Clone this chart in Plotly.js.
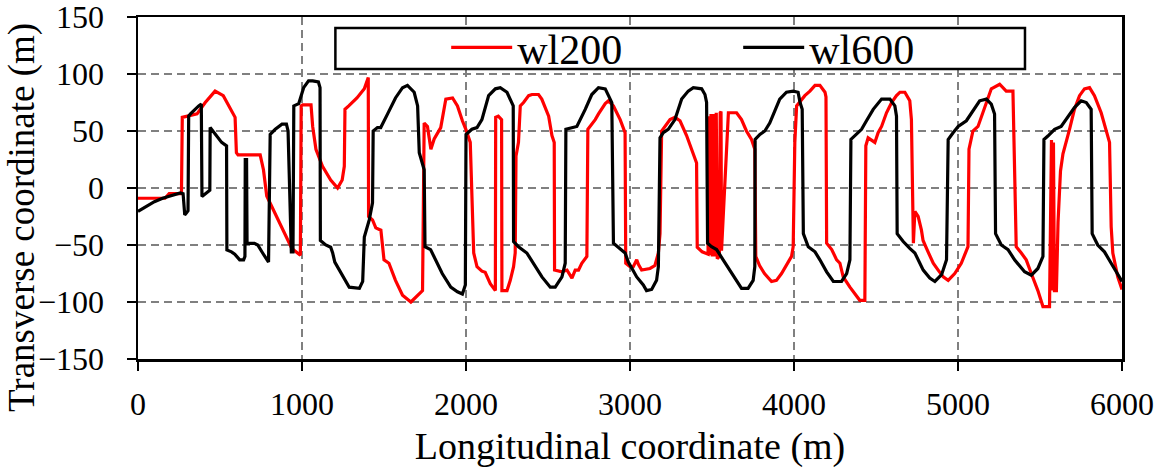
<!DOCTYPE html>
<html>
<head>
<meta charset="utf-8">
<script src="https://cdn.plot.ly/plotly-3.0.1.min.js"></script>
<style>html,body{margin:0;padding:0;background:#fff;}#chart{width:1160px;height:473px;}</style>
</head>
<body>
<div id="chart"></div>
<script>
// wl200 (red) longitudinal / transverse coordinates (m)
var wl200X = [0,165,190,265,270,300,360,410,470,520,592,600,610,745,765,785,938,990,
  995,1005,1055,1065,1085,1125,1175,1217,1245,1258,1262,1285,1335,1380,1404,1406,1430,1450,1481,1500,1530,1570,1613,1664,1705,1735,
  1745,1765,1786,1806,1846,1857,1877,1918,1948,1978,1999,2026,2047,2067,2097,2117,2148,2179,2181,2197,2217,2219,2250,2270,2290,2300,
  2305,2320,2331,2351,2382,2402,2442,2462,2504,2524,2538,2540,2565,2585,2616,2646,2666,2686,2706,2737,2743,2767,2788,2808,2849,2869,
  2899,2940,2970,2974,3000,3020,3041,3051,3071,3122,3152,3173,3183,3193,3213,3244,3274,3305,3345,3386,3406,3410,3440,3476,3478,3486,
  3494,3502,3510,3518,3526,3532,3545,3550,3555,3558,3600,3650,3680,3710,3741,3761,3767,3790,3820,3863,3893,3924,3954,3985,3995,4005,
  4016,4066,4097,4128,4158,4189,4195,4199,4230,4260,4280,4300,4341,4371,4401,4432,4438,4452,4472,4493,4513,4534,4564,4595,4625,4646,
  4676,4706,4716,4728,4737,4757,4777,4787,4808,4828,4849,4879,4910,4940,4980,5020,5061,5067,5091,5122,5152,5203,5254,5294,5335,5345,
  5355,5386,5416,5447,5487,5518,5558,5570,5576,5582,5588,5600,5610,5625,5640,5680,5710,5741,5771,5802,5832,5873,5924,5934,5944,5974,6000];
var wl200Y = [-9,-9,-5,-5,62,63,65,75,85,81,62,31,29,29,16,-7,-53,-59,
  72,73,73,54,34,19,7,0,7,19,69,72,79,87,97,-25,-28,-35,-37,-63,-66,-81,-94,-100,-94,-90,
  57,54,34,43,53,63,78,79,72,59,51.5,40,-57,-69,-73,-74,-84,-90,62,63,60,-90,-90,-81,-69,-57,
  28,40,72,75,81,82,82,78,63,46,40,-72,-73,-73.5,-72,-79,-72,-72,-66,-60,51.5,56,60,65,74,76.5,
  72,60,48.5,-66,-69,-69,-63,-67,-72,-70.6,-68,-57,-40,50,54,60,62,59,46,31,22,-52,-56,-58,63,-59,
  65,-60,65,-60,66,-62,-60,66,67,-55,66,66,60,50,42.6,34,-60,-68,-75,-82,-81,-75,-68,-60,-51.5,40,
  72,81,85,90,90,84,80,-48.5,-54,-63,-66,-78,-87,-93,-98.5,-98.5,37,44,42,40,48.5,54,66,75,81,84,
  84,76.5,60,-48.5,-20.6,-25,-37,-46,-53,-60,-66,-72,-78,-81,-75,-66,-51.5,34,50,54,66,87,91,85,85,28,
  -51.5,-57,-63,-75,-90,-104,-104,42,-90,40,-90,-90,-30,15,30,51.5,69,81,87,88,81,66,40,-34,-57,-78,-89];

// wl600 (black)
var wl600X = [0,30,60,100,150,200,258,275,285,295,305,309,320,370,386,390,420,438,440,470,510,540,542,570,590,620,644,652,654,662,665,
  710,730,760,796,806,837,878,905,915,917,935,945,950,980,1010,1040,1065,1100,1110,1112,1145,1175,1187,1200,1250,1288,1350,1370,1380,
  1410,1430,1434,1460,1480,1522,1570,1613,1643,1684,1705,1715,1745,1750,1784,1855,1907,1948,1978,1996,2000,2036,2067,2097,2138,2179,
  2209,2250,2280,2288,2290,2320,2371,2412,2463,2514,2544,2585,2605,2609,2645,2676,2727,2767,2808,2849,2869,2889,2899,2940,2970,2990,
  3041,3081,3101,3132,3162,3173,3183,3203,3233,3274,3315,3355,3386,3437,3457,3467,3473,3497,3528,3568,3609,3650,3680,3720,3751,3761,
  3763,3792,3822,3852,3883,3913,3954,3995,4025,4037,4050,4057,4087,4128,4158,4199,4240,4290,4321,4341,4347,4371,4412,4442,4483,4534,
  4585,4615,4625,4629,4666,4706,4737,4788,4828,4859,4900,4930,4940,4970,5001,5051,5091,5132,5173,5203,5223,5229,5264,5305,5345,5406,
  5447,5487,5518,5524,5548,5589,5629,5670,5710,5751,5782,5812,5818,5852,5893,5934,5974,6000];
var wl600Y = [-20.6,-18,-15,-12,-9,-7,-4.4,-5,-23.5,-22,-20,63,65,72,73.5,-7.4,-4,-2,53,47,40,37,-54.4,-56,-58,-63,-63,-60,25,25,-48.5,
  -48.5,-50,-57,-65,47,51.5,56,56,50,38,-56,-56,72,74,88,94,94,93,88,-46,-50,-52,-57,-65,-78,-87,-88,-82,-43,
  -28,-13,50,53,53,65,79,88,90,84,72,31,16,-51.5,-54,-75,-87,-91,-93,-85,47,51.5,53,60,81,87,
  88,84,75,72,-47,-51.5,-57,-66,-78,-87,-87,-78,-66,51.5,53,54,69,82,88,87,81,75,-48.5,-53,-57,-65,
  -78,-85,-90,-89,-81,-69,44,48.5,51.5,60,78,85,88,87,82,75,-48.5,-51.5,-54,-63,-72,-82,-88,-88,-81,-69,
  42.6,47,50,57,68,78,84,85,84,75,69,-40,-51.5,-56,-63,-73.5,-82,-82,-75,-63,42.6,45.6,51.5,59,69,78,
  78,72,63,-40,-47,-53,-57,-72,-79,-82,-76,-63,42.6,48.5,54,59,68,76.5,78,73.5,65,-40,-50,-54,-63,-73.5,
  -76.5,-70.6,-60,42.6,45.6,51.5,54,63,70.6,76.5,75,69,-40,-50,-56,-66,-76.5,-82];

var seriesNames = ['wl200', 'wl600'];
var xTitle = 'Longitudinal coordinate (m)';
var yTitle = 'Transverse coordinate (m)';

var FONT = '"Liberation Serif", "Times New Roman", serif';

var traces = [
  {x: wl200X, y: wl200Y, name: seriesNames[0], type: 'scatter', mode: 'lines',
   line: {color: '#ff0000', width: 3.2}},
  {x: wl600X, y: wl600Y, name: seriesNames[1], type: 'scatter', mode: 'lines',
   line: {color: '#000000', width: 3.2}}
];

var gridDash = '8px,5px';
var layout = {
  width: 1160, height: 473,
  margin: {l: 137.5, r: 38, t: 17, b: 114, pad: 0},
  paper_bgcolor: '#ffffff', plot_bgcolor: '#ffffff',
  font: {family: FONT, color: '#000', size: 32},
  showlegend: true,
  legend: {
    orientation: 'h', x: 0.3132, y: 1.01, xanchor: 'left', yanchor: 'top',
    bgcolor: 'rgba(0,0,0,0)', borderwidth: 0,
    font: {family: FONT, size: 42, color: '#000'},
    entrywidth: 216, itemwidth: 61, tracegroupgap: 0
  },
  xaxis: {
    range: [0, 6000], dtick: 1000, tick0: 0,
    showline: true, linecolor: '#000', linewidth: 2.5, mirror: true,
    ticks: 'outside', ticklen: 9, tickwidth: 2, tickcolor: '#000',
    ticklabelstandoff: 6, ticklabeloverflow: 'allow',
    showgrid: true, gridcolor: '#808080', gridwidth: 2, griddash: gridDash,
    zeroline: false,
    tickfont: {family: FONT, size: 32, color: '#000'},
    title: {text: xTitle, font: {family: FONT, size: 38, color: '#000'}, standoff: 12},
    automargin: false
  },
  yaxis: {
    range: [-150, 150], dtick: 50, tick0: 0,
    showline: true, linecolor: '#000', linewidth: 2.5, mirror: true,
    ticks: 'outside', ticklen: 9, tickwidth: 2, tickcolor: '#000',
    ticklabelstandoff: 16, ticklabeloverflow: 'allow',
    showgrid: true, gridcolor: '#808080', gridwidth: 2, griddash: gridDash,
    zeroline: false,
    tickfont: {family: FONT, size: 32, color: '#000'},
    automargin: false
  },
  shapes: [{
    type: 'rect', xref: 'paper', yref: 'paper', layer: 'above',
    x0: 0.2006, x1: 0.9014, y0: 0.848, y1: 0.968,
    line: {color: '#000', width: 2.5}, fillcolor: '#ffffff'
  }],
  annotations: [{
    text: yTitle, xref: 'paper', yref: 'paper', x: -0.118, y: 0.415,
    xanchor: 'center', yanchor: 'middle', textangle: -90, showarrow: false,
    font: {family: FONT, size: 37, color: '#000'}
  }]
};

Plotly.newPlot('chart', traces, layout, {displayModeBar: false, staticPlot: true});
</script>
</body>
</html>
